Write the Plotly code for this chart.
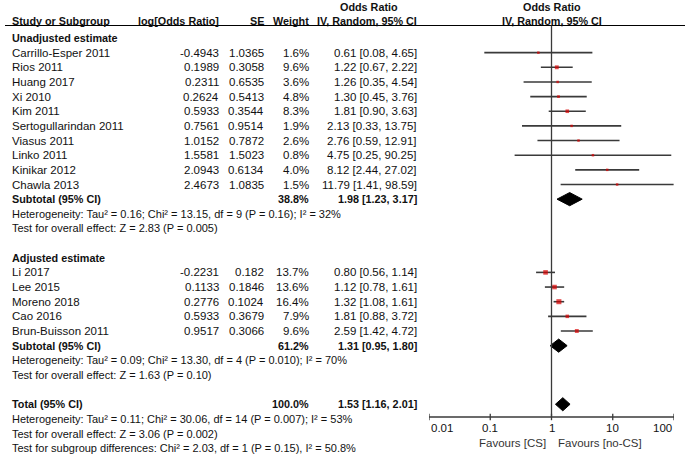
import math
import plotly.graph_objects as go

# ---------------- data ----------------
unadj_study = ["Carrillo-Esper 2011", "Rios 2011", "Huang 2017", "Xi 2010", "Kim 2011",
               "Sertogullarindan 2011", "Viasus 2011", "Linko 2011", "Kinikar 2012", "Chawla 2013"]
unadj_logor = ["-0.4943", "0.1989", "0.2311", "0.2624", "0.5933", "0.7561", "1.0152", "1.5581", "2.0943", "2.4673"]
unadj_se = ["1.0365", "0.3058", "0.6535", "0.5413", "0.3544", "0.9514", "0.7872", "1.5023", "0.6134", "1.0835"]
unadj_weight = [1.6, 9.6, 3.6, 4.8, 8.3, 1.9, 2.6, 0.8, 4.0, 1.5]
unadj_or = [0.61, 1.22, 1.26, 1.30, 1.81, 2.13, 2.76, 4.75, 8.12, 11.79]
unadj_lo = [0.08, 0.67, 0.35, 0.45, 0.90, 0.33, 0.59, 0.25, 2.44, 1.41]
unadj_hi = [4.65, 2.22, 4.54, 3.76, 3.63, 13.75, 12.91, 90.25, 27.02, 98.59]

adj_study = ["Li 2017", "Lee 2015", "Moreno 2018", "Cao 2016", "Brun-Buisson 2011"]
adj_logor = ["-0.2231", "0.1133", "0.2776", "0.5933", "0.9517"]
adj_se = ["0.182", "0.1846", "0.1024", "0.3679", "0.3066"]
adj_weight = [13.7, 13.6, 16.4, 7.9, 9.6]
adj_or = [0.80, 1.12, 1.32, 1.81, 2.59]
adj_lo = [0.56, 0.78, 1.08, 0.88, 1.42]
adj_hi = [1.14, 1.61, 1.61, 3.72, 4.72]

sub_labels = ["Subtotal (95% CI)", "Subtotal (95% CI)", "Total (95% CI)"]
sub_weight = [38.8, 61.2, 100.0]
sub_or = [1.98, 1.31, 1.53]
sub_lo = [1.23, 0.95, 1.16]
sub_hi = [3.17, 1.80, 2.01]

unadj_notes = ["Heterogeneity: Tau² = 0.16; Chi² = 13.15, df = 9 (P = 0.16); I² = 32%",
               "Test for overall effect: Z = 2.83 (P = 0.005)"]
adj_notes = ["Heterogeneity: Tau² = 0.09; Chi² = 13.30, df = 4 (P = 0.010); I² = 70%",
             "Test for overall effect: Z = 1.63 (P = 0.10)"]
total_notes = ["Heterogeneity: Tau² = 0.11; Chi² = 30.06, df = 14 (P = 0.007); I² = 53%",
               "Test for overall effect: Z = 3.06 (P = 0.002)",
               "Test for subgroup differences: Chi² = 2.03, df = 1 (P = 0.15), I² = 50.8%"]

tick_vals = [0.01, 0.1, 1, 10, 100]
tick_text = ["0.01", "0.1", "1", "10", "100"]
favours_left = "Favours [CS]"
favours_right = "Favours [no-CS]"

# ---------------- layout helpers ----------------
W, H = 685, 455
ROW0_PX, STEP = 38.0, 14.65
y_top = -ROW0_PX / STEP
y_bot = (H - ROW0_PX) / STEP
AXIS_ROW = (417 - ROW0_PX) / STEP
HEAD_ROW = (25.5 - ROW0_PX) / STEP

FONT = "Arial, Liberation Sans, sans-serif"
FS = 11.5
FS_B = 10.8
FS_N = 11
TXT = "#111111"
LINE = "#3a3a3a"

X_STUDY = 10 / W
X_LOG = 221 / W
X_SE = 266 / W
X_WT = 311 / W
X_CI = 419 / W

fig = go.Figure()
ann = []
shapes = []


def txt(x, y, s, anchor="left", bold=False, size=None):
    if size is None:
        size = FS_B if bold else FS
    ann.append(dict(x=x, y=y, xref="paper", yref="y", text=("<b>%s</b>" % s) if bold else s,
                    showarrow=False, xanchor=anchor, yanchor="middle",
                    font=dict(family=FONT, size=size, color=TXT)))


def ci_str(o, l, h):
    return "%.2f [%.2f, %.2f]" % (o, l, h)


# headers
txt(X_STUDY, -1.16, "Study or Subgroup", bold=True)
txt(X_LOG, -1.16, "log[Odds Ratio]", "right", bold=True)
txt(X_SE, -1.16, "SE", "right", bold=True)
txt(X_WT, -1.16, "Weight", "right", bold=True)
txt(369 / W, -2.12, "Odds Ratio", "center", bold=True)
txt(X_CI, -1.16, "IV, Random, 95% CI", "right", bold=True)
txt(552 / W, -2.12, "Odds Ratio", "center", bold=True)
txt(552 / W, -1.16, "IV, Random, 95% CI", "center", bold=True)
shapes.append(dict(type="line", xref="paper", yref="y", x0=5 / W, x1=1, y0=HEAD_ROW, y1=HEAD_ROW,
                   line=dict(color="#000000", width=1.2)))


def diamond(r, k):
    txt(X_STUDY, r, sub_labels[k], bold=True)
    txt(X_WT, r, "%.1f%%" % sub_weight[k], "right", bold=True)
    txt(X_CI, r, ci_str(sub_or[k], sub_lo[k], sub_hi[k]), "right", bold=True)
    d = 0.45
    fig.add_trace(go.Scatter(x=[sub_lo[k], sub_or[k], sub_hi[k], sub_or[k], sub_lo[k]],
                             y=[r, r - d, r, r + d, r], mode="lines", fill="toself",
                             fillcolor="#000000", line=dict(color="#000000", width=1),
                             showlegend=False, hoverinfo="skip"))


def group(start_row, title, study, logor, se, weight, orv, lo, hi, sub_i, notes):
    txt(X_STUDY, start_row, title, bold=True)
    for i in range(len(study)):
        r = start_row + 1 + i
        txt(X_STUDY, r, study[i])
        txt(X_LOG, r, logor[i], "right")
        txt(X_SE, r, se[i], "right")
        txt(X_WT, r, "%.1f%%" % weight[i], "right")
        txt(X_CI, r, ci_str(orv[i], lo[i], hi[i]), "right")
        fig.add_trace(go.Scatter(x=[lo[i], hi[i]], y=[r, r], mode="lines",
                                 line=dict(color=LINE, width=1.6), hoverinfo="skip", showlegend=False))
    rows = [start_row + 1 + i for i in range(len(study))]
    sizes = [max(2.5, (w ** 0.5) * 1.25) for w in weight]
    fig.add_trace(go.Scatter(x=orv, y=rows, mode="markers",
                             marker=dict(symbol="square", size=sizes, color="#d80000", line=dict(width=0)),
                             showlegend=False, hoverinfo="skip"))
    sr = start_row + 1 + len(study)
    diamond(sr, sub_i)
    for j, n in enumerate(notes):
        txt(X_STUDY, sr + 1 + j, n, size=FS_N)
    return sr + 1 + len(notes)


nr = group(0, "Unadjusted estimate", unadj_study, unadj_logor, unadj_se, unadj_weight,
           unadj_or, unadj_lo, unadj_hi, 0, unadj_notes)
nr = group(nr + 1, "Adjusted estimate", adj_study, adj_logor, adj_se, adj_weight,
           adj_or, adj_lo, adj_hi, 1, adj_notes)
tr = nr + 1
diamond(tr, 2)
for j, n in enumerate(total_notes):
    txt(X_STUDY, tr + 1 + j, n, size=FS_N)

# forest axis (shapes use data values on log axis; annotations use log10)
shapes.append(dict(type="line", xref="x", yref="y", x0=1, x1=1, y0=HEAD_ROW, y1=AXIS_ROW,
                   line=dict(color=LINE, width=1.3)))
shapes.append(dict(type="line", xref="x", yref="y", x0=tick_vals[0], x1=tick_vals[-1],
                   y0=AXIS_ROW, y1=AXIS_ROW, line=dict(color=LINE, width=1.3)))
for i, tv in enumerate(tick_vals):
    shapes.append(dict(type="line", xref="x", yref="y", x0=tv, x1=tv,
                       y0=AXIS_ROW - 0.22, y1=AXIS_ROW + 0.22, line=dict(color=LINE, width=1.3)))
    anc = "left" if i == 0 else ("right" if i == len(tick_vals) - 1 else "center")
    ann.append(dict(x=math.log10(tv), y=AXIS_ROW + 0.78, xref="x", yref="y", text=tick_text[i],
                    showarrow=False, xanchor=anc, yanchor="middle",
                    font=dict(family=FONT, size=FS, color=TXT)))
ann.append(dict(x=0, y=AXIS_ROW + 1.75, xref="x", yref="y", text=favours_left, showarrow=False,
                xanchor="right", yanchor="middle", xshift=-4, font=dict(family=FONT, size=FS, color="#333333")))
ann.append(dict(x=0, y=AXIS_ROW + 1.75, xref="x", yref="y", text=favours_right, showarrow=False,
                xanchor="left", yanchor="middle", xshift=4, font=dict(family=FONT, size=FS, color="#333333")))

fig.update_layout(
    width=W, height=H, margin=dict(l=0, r=0, t=0, b=0),
    paper_bgcolor="white", plot_bgcolor="white",
    xaxis=dict(type="log", range=[-2, 2], domain=[429 / W, 674 / W], visible=False),
    yaxis=dict(range=[y_bot, y_top], visible=False),
    annotations=ann, shapes=shapes, showlegend=False,
)
fig.write_html("out.html", config={"displayModeBar": False},
               post_script="document.body.style.margin='0';document.body.style.overflow='hidden';")
